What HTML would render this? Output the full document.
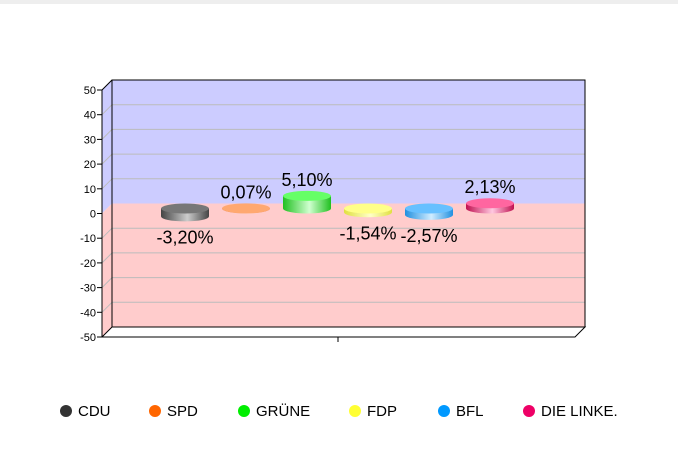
<!DOCTYPE html>
<html><head><meta charset="utf-8"><style>
body{margin:0;background:#fff;font-family:"Liberation Sans",sans-serif;}
</style></head><body>
<div style="position:absolute;left:0;top:0;width:678px;height:4px;background:#eee"></div>
<svg id="chart" width="678" height="450" style="position:absolute;left:0;top:0" xmlns="http://www.w3.org/2000/svg">
<defs>
<linearGradient id="g0" x1="0" x2="1"><stop offset="0" stop-color="#444"/><stop offset="0.55" stop-color="#ccc"/><stop offset="1" stop-color="#444"/></linearGradient>
<linearGradient id="g1" x1="0" x2="1"><stop offset="0" stop-color="#e07030"/><stop offset="0.55" stop-color="#ffd0a8"/><stop offset="1" stop-color="#e07030"/></linearGradient>
<linearGradient id="g2" x1="0" x2="1"><stop offset="0" stop-color="#20c020"/><stop offset="0.55" stop-color="#d0ffd0"/><stop offset="1" stop-color="#20c020"/></linearGradient>
<linearGradient id="g3" x1="0" x2="1"><stop offset="0" stop-color="#e0e040"/><stop offset="0.55" stop-color="#ffffc8"/><stop offset="1" stop-color="#e0e040"/></linearGradient>
<linearGradient id="g4" x1="0" x2="1"><stop offset="0" stop-color="#2090e0"/><stop offset="0.55" stop-color="#d0ecff"/><stop offset="1" stop-color="#2090e0"/></linearGradient>
<linearGradient id="g5" x1="0" x2="1"><stop offset="0" stop-color="#c01050"/><stop offset="0.55" stop-color="#ffc8e0"/><stop offset="1" stop-color="#c01050"/></linearGradient>
</defs>
</svg>
<script>
const categories=["CDU","SPD","GRÜNE","FDP","BFL","DIE LINKE."];
const values=[-3.20,0.07,5.10,-1.54,-2.57,2.13];
const labels=["-3,20%","0,07%","5,10%","-1,54%","-2,57%","2,13%"];
const ticks=[50,40,30,20,10,0,-10,-20,-30,-40,-50];
const colors=["#333333","#ff6600","#00ee00","#ffff33","#0099ff","#ee0066"];
const topColors=["#777777","#ffa870","#66ff66","#ffff88","#66c0ff","#ff66a0"];

const svg=document.getElementById('chart');
const NS='http://www.w3.org/2000/svg';
function mk(t,a,p){const e=document.createElementNS(NS,t);for(const k in a)e.setAttribute(k,a[k]);(p||svg).appendChild(e);return e;}
const fx0=102,fx1=575,fyTop=90,fyBot=337,D=10;
function yF(v){return fyBot-(v+50)/100*(fyBot-fyTop);}
let e;
e=mk('rect',{x:fx0+D,y:fyTop-D,width:fx1-fx0,height:yF(0)-fyTop,fill:'#ccccff'});

e=mk('rect',{x:fx0+D,y:yF(0)-D,width:fx1-fx0,height:fyBot-yF(0),fill:'#ffcccc'});

e=mk('polygon',{points:`${fx0},${fyTop} ${fx0+D},${fyTop-D} ${fx0+D},${yF(0)-D} ${fx0},${yF(0)}`,fill:'#ccccff'});

e=mk('polygon',{points:`${fx0},${yF(0)} ${fx0+D},${yF(0)-D} ${fx0+D},${fyBot-D} ${fx0},${fyBot}`,fill:'#ffcccc'});

ticks.forEach(t=>{
  const y=yF(t);
  if(t!==50&&t!==-50&&t!==0){
    e=mk('line',{x1:fx0+D,x2:fx1+D,y1:y-D,y2:y-D,stroke:'#bbbbbb','stroke-width':1});
    
    e=mk('line',{x1:fx0,x2:fx0+D,y1:y,y2:y-D,stroke:'#bbbbbb','stroke-width':1});
    
  }
  e=mk('line',{x1:fx0-5,x2:fx0,y1:y,y2:y,stroke:'#000'});
  
  e=mk('text',{x:fx0-6,y:y+4,'text-anchor':'end','font-size':11,fill:'#000'});
  e.textContent=t;
  
});
e=mk('rect',{x:fx0+D,y:fyTop-D,width:fx1-fx0,height:fyBot-fyTop,fill:'none',stroke:'#000'});

e=mk('polygon',{points:`${fx0},${fyBot} ${fx1},${fyBot} ${fx1+D},${fyBot-D} ${fx0+D},${fyBot-D}`,fill:'#fff',stroke:'#000'});

e=mk('polyline',{points:`${fx0},${fyBot} ${fx0},${fyTop} ${fx0+D},${fyTop-D}`,fill:'none',stroke:'#000'});

e=mk('line',{x1:338,x2:338,y1:fyBot,y2:fyBot+5,stroke:'#000'});

const step=61,x0=185,rx=24,ry=5,h=D/2;
values.forEach((v,i)=>{
  const cx=x0+i*step;
  const yt=yF(Math.max(v,0))-h, yb=yF(Math.min(v,0))-h;
  const g=mk('g',{});
  
  
  mk('path',{d:`M${cx-rx},${yt} L${cx-rx},${yb} A${rx},${ry} 0 0 0 ${cx+rx},${yb} L${cx+rx},${yt} Z`,fill:`url(#g${i})`},g);
  mk('ellipse',{cx:cx,cy:yt,rx:rx,ry:ry,fill:topColors[i]},g);
  const t=mk('text',{x:cx,'text-anchor':'middle','font-size':18,fill:'#000'});
  t.setAttribute('y', v>=0 ? yt-ry-5 : yb+ry+22);
  t.textContent=labels[i];
  
  
});
const lx=[66,155,244,355,444,529];
categories.forEach((c,i)=>{
  const g=mk('g',{});
  
  
  mk('circle',{cx:lx[i],cy:411,r:6,fill:colors[i]},g);
  const t=mk('text',{x:lx[i]+12,y:416,'font-size':15,fill:'#000'},g);
  t.textContent=c;
});
</script>
</body></html>
